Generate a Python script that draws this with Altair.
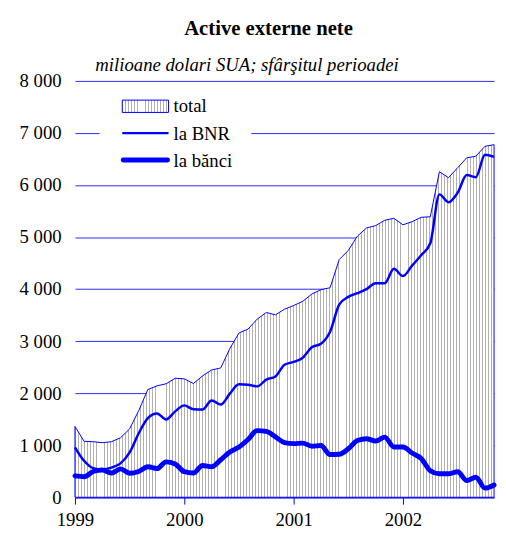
import altair as alt
import pandas as pd

TITLE = "Active externe nete"
SUBTITLE = "milioane dolari SUA; sfârşitul perioadei"
SERIES = ["total", "la BNR", "la bănci"]
YEAR_LABELS = [1999, 2000, 2001, 2002]
Y_TICKS = [0, 1000, 2000, 3000, 4000, 5000, 6000, 7000, 8000]

# monthly values, Jan 1999 .. Nov 2002 (mil. USD, end of period)
total = [1360, 1075, 1067, 1048, 1067, 1143, 1314, 1665, 2070, 2140, 2180, 2286,
         2275, 2185, 2331, 2446, 2484, 2857, 3156, 3232, 3423, 3550, 3505, 3613,
         3684, 3765, 3905, 3988, 4026, 4566, 4743, 5017, 5175, 5219, 5322, 5360,
         5235, 5295, 5379, 5390, 6255, 6141, 6331, 6522, 6553, 6743, 6775]
bnr = [960, 700, 560, 535, 570, 650, 860, 1230, 1520, 1610, 1495, 1650,
       1765, 1690, 1685, 1860, 1780, 1990, 2170, 2160, 2130, 2260, 2320, 2545,
       2600, 2680, 2884, 2950, 3180, 3700, 3850, 3920, 4000, 4110, 4110, 4390,
       4250, 4450, 4650, 4880, 5820, 5670, 5850, 6190, 6150, 6580, 6540]
banks = [410, 395, 495, 525, 465, 545, 460, 495, 585, 550, 680, 640,
         490, 465, 610, 585, 720, 870, 965, 1110, 1280, 1265, 1160, 1050,
         1030, 1040, 980, 995, 820, 825, 930, 1090, 1125, 1080, 1155, 965,
         965, 850, 745, 510, 450, 450, 490, 320, 385, 175, 235]

n = len(total)
df = pd.DataFrame({"t": list(range(n)), "total": total, "bnr": bnr, "banks": banks})
one = pd.DataFrame({"k": [0]})

W, H = 425.5, 422.7
BLUE = "#0000ff"
GRID = "#2a2aff"
FONT = "Liberation Serif"


def stripes(k, color="#b0b0b0", frac=0.3):
    stops = []
    for i in range(k):
        a = i / k
        b = (i + frac) / k
        c = (i + 1) / k
        stops += [{"offset": a, "color": color}, {"offset": b, "color": color},
                  {"offset": b, "color": "#ffffff"}, {"offset": c, "color": "#ffffff"}]
    return {"gradient": "linear", "x1": 0, "x2": 1, "y1": 0, "y2": 0, "stops": stops}


xscale = alt.Scale(domain=[0, n - 1], nice=False, zero=False)
yscale = alt.Scale(domain=[0, 8000], nice=False)

x_axis = alt.Axis(values=[12 * i for i in range(len(YEAR_LABELS))],
                  labelExpr="1999 + datum.value / 12",
                  grid=False, domain=True, domainColor=BLUE, domainWidth=1,
                  ticks=True, tickColor=BLUE, tickSize=7, tickWidth=1,
                  labelFont=FONT, labelFontSize=19, labelColor="black",
                  labelPadding=7, labelFlush=False, labelBound=False,
                  labelOverlap=False, title=None)
y_axis = alt.Axis(values=Y_TICKS,
                  labelExpr="replace(format(datum.value, ','), ',', ' ')",
                  grid=True, gridColor=GRID, gridWidth=1,
                  domain=False, ticks=False,
                  labelFont=FONT, labelFontSize=19, labelColor="black",
                  labelPadding=14, labelFlush=False, labelBound=False,
                  labelOverlap=False, title=None)


def xy(field):
    return dict(x=alt.X("t:Q", scale=xscale, axis=x_axis),
                y=alt.Y(f"{field}:Q", scale=yscale, axis=y_axis))


legend_box = alt.Chart(one).mark_rect(fill="white").encode(
    x=alt.value(25), x2=alt.value(179), y=alt.value(8), y2=alt.value(96))

area = alt.Chart(df).mark_area(fill=stripes(142), stroke=BLUE, strokeWidth=1,
                               interpolate="linear").encode(**xy("total"))

line_bnr = alt.Chart(df).mark_line(color=BLUE, strokeWidth=2.5, interpolate="monotone",
                                   strokeJoin="round").encode(**xy("bnr"))

line_banks = alt.Chart(df).mark_line(color=BLUE, strokeWidth=5, interpolate="monotone",
                                     strokeJoin="round", strokeCap="round").encode(**xy("banks"))

# legend
leg_swatch = alt.Chart(one).mark_rect(fill=stripes(16), stroke=BLUE, strokeWidth=1).encode(
    x=alt.value(48), x2=alt.value(95), y=alt.value(19.5), y2=alt.value(32))
leg_bnr = alt.Chart(one).mark_rule(color=BLUE, strokeWidth=2.5).encode(
    x=alt.value(48), x2=alt.value(95), y=alt.value(53))
leg_banks = alt.Chart(one).mark_rule(color=BLUE, strokeWidth=5, strokeCap="round").encode(
    x=alt.value(49), x2=alt.value(94), y=alt.value(80.3))


def txt(s, x, y, size=19, **kw):
    return alt.Chart(one).mark_text(font=FONT, fontSize=size, color="black",
                                    baseline="alphabetic", **kw).encode(
        x=alt.value(x), y=alt.value(y), text=alt.value(s))


leg_t1 = txt(SERIES[0], 100, 32, align="left")
leg_t2 = txt(SERIES[1], 100, 60.3, align="left")
leg_t3 = txt(SERIES[2], 100, 87, align="left")

title = txt(TITLE, 196.5, -47, size=21, align="center", fontWeight="bold")
subtitle = txt(SUBTITLE, 20.7, -9.7, size=19, align="left", fontStyle="italic")

chart = alt.layer(
    area, line_bnr, line_banks, legend_box,
    leg_swatch, leg_bnr, leg_banks, leg_t1, leg_t2, leg_t3,
    title, subtitle
).properties(
    width=W, height=H,
    autosize=alt.AutoSizeParams(type="none"),
    padding={"left": 68, "top": 70, "right": 4, "bottom": 34},
    background="white"
).configure_view(stroke=None)

chart.save("out.html", embed_options={"renderer": "svg", "actions": False})
